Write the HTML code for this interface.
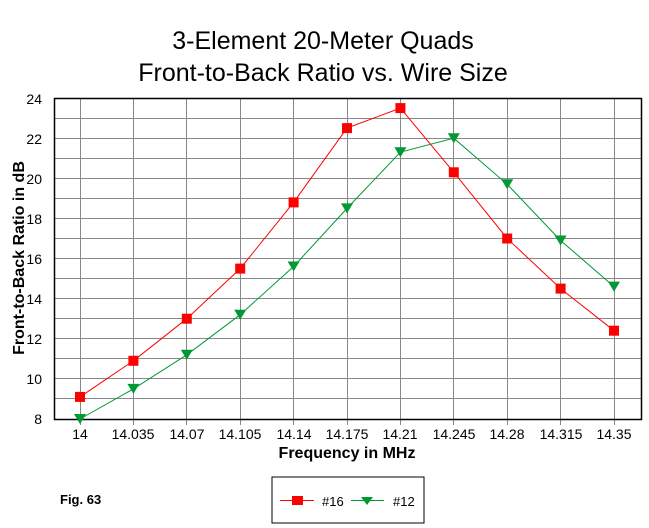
<!DOCTYPE html>
<html><head><style>body{margin:0;background:#fff}svg{display:block}text{font-family:"Liberation Sans",Arial,sans-serif}</style></head><body>
<svg width="649" height="528" xmlns="http://www.w3.org/2000/svg">
<rect width="649" height="528" fill="#fff"/>
<text x="323" y="49" font-size="25" text-anchor="middle">3-Element 20-Meter Quads</text>
<text x="323" y="81" font-size="25" text-anchor="middle">Front-to-Back Ratio vs. Wire Size</text>
<g stroke="#888" stroke-width="1">
<path d="M80.5 98V419M133.5 98V419M186.5 98V419M240.5 98V419M293.5 98V419M347.5 98V419M400.5 98V419M453.5 98V419M507.5 98V419M560.5 98V419M614.5 98V419"/>
<path d="M54 118.5H641M54 138.5H641M54 158.5H641M54 178.5H641M54 198.5H641M54 218.5H641M54 238.5H641M54 258.5H641M54 278.5H641M54 298.5H641M54 318.5H641M54 338.5H641M54 358.5H641M54 378.5H641M54 398.5H641"/>
<path d="M80.5 419v6M133.5 419v6M186.5 419v6M240.5 419v6M293.5 419v6M347.5 419v6M400.5 419v6M453.5 419v6M507.5 419v6M560.5 419v6M614.5 419v6"/>
</g>
<path d="M54.5 98.5H641.5V419.5H54.5Z" fill="none" stroke="#000" stroke-width="1.5"/>
<g font-size="14" text-anchor="end">
<text x="42" y="104">24</text><text x="42" y="144">22</text><text x="42" y="184">20</text><text x="42" y="224">18</text><text x="42" y="264">16</text><text x="42" y="304">14</text><text x="42" y="344">12</text><text x="42" y="384">10</text><text x="42" y="424">8</text>
</g>
<g font-size="14" text-anchor="middle">
<text x="80" y="439">14</text><text x="133" y="439">14.035</text><text x="187" y="439">14.07</text><text x="240" y="439">14.105</text><text x="294" y="439">14.14</text><text x="347" y="439">14.175</text><text x="400" y="439">14.21</text><text x="454" y="439">14.245</text><text x="507" y="439">14.28</text><text x="561" y="439">14.315</text><text x="614" y="439">14.35</text>
</g>
<text x="347" y="458" font-size="16" font-weight="bold" text-anchor="middle">Frequency in MHz</text>
<text transform="translate(24,258) rotate(-90)" font-size="16" font-weight="bold" text-anchor="middle">Front-to-Back Ratio in dB</text>
<polyline fill="none" stroke="#f00" stroke-width="1" points="80,396.9 133.4,360.8 186.8,318.7 240.2,268.6 293.6,202.4 347,128.1 400.4,108.1 453.8,172.3 507.2,238.5 560.6,288.6 614,330.7"/>
<polyline fill="none" stroke="#009933" stroke-width="1" points="80,419 133.4,388.9 186.8,354.8 240.2,314.7 293.6,266.5 347,208.4 400.4,152.2 453.8,138.2 507.2,184.3 560.6,240.5 614,286.6"/>
<g fill="#f00">
<rect x="75" y="391.9" width="10" height="10"/><rect x="128.4" y="355.8" width="10" height="10"/><rect x="181.8" y="313.7" width="10" height="10"/><rect x="235.2" y="263.6" width="10" height="10"/><rect x="288.6" y="197.4" width="10" height="10"/><rect x="342" y="123.1" width="10" height="10"/><rect x="395.4" y="103.1" width="10" height="10"/><rect x="448.8" y="167.3" width="10" height="10"/><rect x="502.2" y="233.5" width="10" height="10"/><rect x="555.6" y="283.6" width="10" height="10"/><rect x="609" y="325.7" width="10" height="10"/>
</g>
<g fill="#009933">
<path d="M74 414h12l-6 10z M127.4 383.9h12l-6 10z M180.8 349.8h12l-6 10z M234.2 309.7h12l-6 10z M287.6 261.5h12l-6 10z M341 203.4h12l-6 10z M394.4 147.2h12l-6 10z M447.8 133.2h12l-6 10z M501.2 179.3h12l-6 10z M554.6 235.5h12l-6 10z M608 281.6h12l-6 10z"/>
</g>
<text x="60" y="504" font-size="13" font-weight="bold">Fig. 63</text>
<rect x="272" y="477" width="152" height="46" fill="none" stroke="#000" stroke-width="1"/>
<line x1="280" y1="500.5" x2="314" y2="500.5" stroke="#f00"/>
<rect x="292" y="496" width="11" height="9" fill="#f00"/>
<text x="322" y="506" font-size="13">#16</text>
<line x1="351" y1="500.5" x2="384" y2="500.5" stroke="#009933"/>
<path d="M361 497h12l-6 8z" fill="#009933"/>
<text x="393" y="506" font-size="13">#12</text>
</svg>
</body></html>
